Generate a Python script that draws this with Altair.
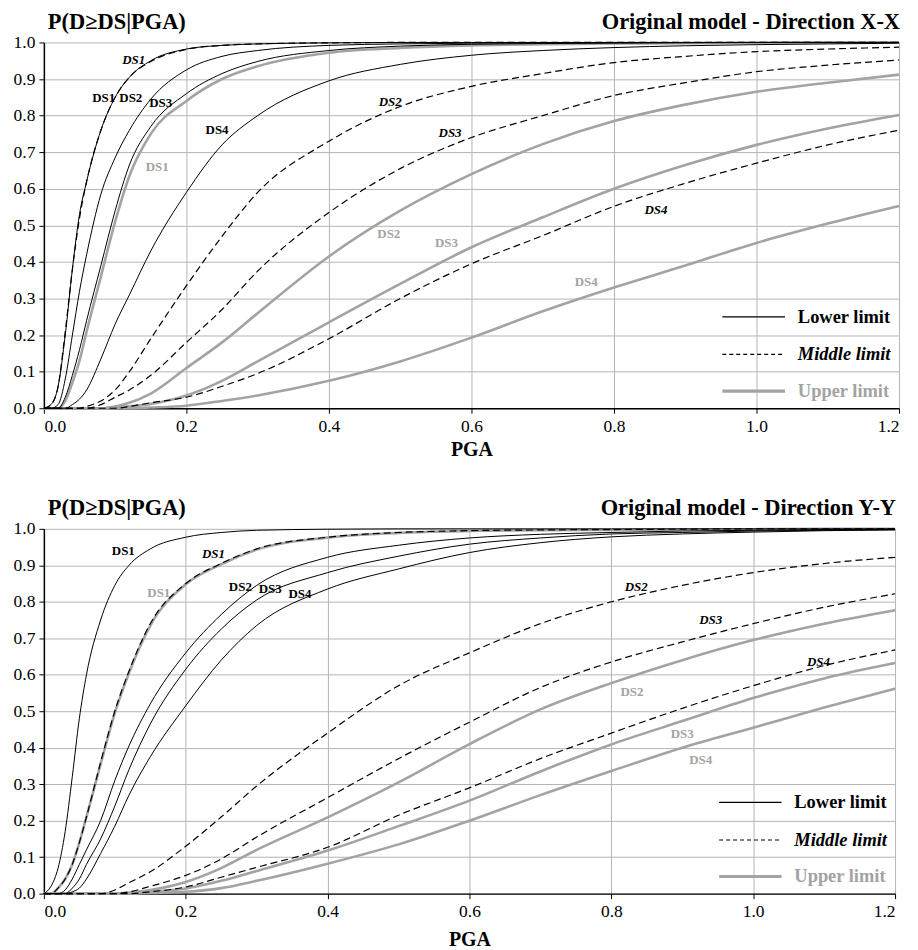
import altair as alt
import pandas as pd

# ---------------- data ----------------
PGA = [0, 0.01, 0.02, 0.03, 0.04, 0.05, 0.06, 0.08, 0.10, 0.12, 0.15, 0.20, 0.25,
       0.30, 0.40, 0.50, 0.60, 0.70, 0.80, 0.90, 1.00, 1.10, 1.20]

# Direction X-X
XX_LOWER = {
    "DS1": [0, 0.01, 0.06, 0.20, 0.38, 0.53, 0.62, 0.76, 0.85, 0.905, 0.95, 0.982, 0.992, 0.996, 0.999, 1, 1, 1, 1, 1, 1, 1, 1],
    "DS2": [0, 0, 0.01, 0.08, 0.20, 0.32, 0.42, 0.585, 0.685, 0.76, 0.845, 0.925, 0.962, 0.978, 0.992, 0.996, 0.998, 0.999, 1, 1, 1, 1, 1],
    "DS3": [0, 0, 0, 0.03, 0.09, 0.16, 0.24, 0.39, 0.54, 0.665, 0.77, 0.86, 0.915, 0.948, 0.978, 0.99, 0.995, 0.997, 0.998, 0.999, 1, 1, 1],
    "DS4": [0, 0, 0, 0, 0.01, 0.025, 0.05, 0.135, 0.23, 0.31, 0.43, 0.59, 0.72, 0.80, 0.895, 0.94, 0.965, 0.978, 0.986, 0.991, 0.994, 0.996, 0.998],
}
XX_MIDDLE = {
    "DS1": [0, 0.01, 0.06, 0.21, 0.38, 0.52, 0.62, 0.76, 0.85, 0.905, 0.948, 0.981, 0.992, 0.996, 0.999, 1, 1, 1, 1, 1, 1, 1, 1],
    "DS2": [0, 0, 0, 0, 0, 0, 0.005, 0.02, 0.05, 0.10, 0.19, 0.335, 0.47, 0.59, 0.73, 0.825, 0.88, 0.915, 0.945, 0.962, 0.975, 0.982, 0.987],
    "DS3": [0, 0, 0, 0, 0, 0, 0, 0.01, 0.03, 0.05, 0.09, 0.18, 0.27, 0.375, 0.535, 0.655, 0.74, 0.80, 0.855, 0.89, 0.92, 0.938, 0.952],
    "DS4": [0, 0, 0, 0, 0, 0, 0, 0, 0, 0.005, 0.015, 0.03, 0.06, 0.095, 0.19, 0.30, 0.395, 0.472, 0.552, 0.615, 0.67, 0.72, 0.76],
}
XX_UPPER = {
    "DS1": [0, 0, 0, 0.02, 0.07, 0.13, 0.21, 0.36, 0.51, 0.635, 0.75, 0.84, 0.90, 0.935, 0.972, 0.985, 0.992, 0.995, 0.997, 0.998, 0.999, 1, 1],
    "DS2": [0, 0, 0, 0, 0, 0, 0, 0, 0.005, 0.015, 0.04, 0.11, 0.18, 0.26, 0.415, 0.54, 0.64, 0.722, 0.785, 0.83, 0.865, 0.89, 0.912],
    "DS3": [0, 0, 0, 0, 0, 0, 0, 0, 0.002, 0.005, 0.012, 0.035, 0.075, 0.128, 0.235, 0.34, 0.44, 0.522, 0.60, 0.665, 0.72, 0.765, 0.802],
    "DS4": [0, 0, 0, 0, 0, 0, 0, 0, 0, 0, 0.002, 0.007, 0.02, 0.035, 0.075, 0.128, 0.193, 0.265, 0.33, 0.39, 0.452, 0.505, 0.553],
}

# Direction Y-Y
YY_LOWER = {
    "DS1": [0, 0.02, 0.07, 0.17, 0.32, 0.48, 0.60, 0.75, 0.845, 0.90, 0.945, 0.977, 0.99, 0.996, 0.999, 1, 1, 1, 1, 1, 1, 1, 1],
    "DS2": [0, 0, 0, 0.01, 0.04, 0.08, 0.12, 0.20, 0.31, 0.405, 0.52, 0.66, 0.765, 0.845, 0.922, 0.955, 0.975, 0.985, 0.99, 0.994, 0.996, 0.998, 0.999],
    "DS3": [0, 0, 0, 0, 0.015, 0.04, 0.08, 0.15, 0.24, 0.34, 0.465, 0.615, 0.725, 0.805, 0.88, 0.925, 0.958, 0.975, 0.986, 0.99, 0.994, 0.996, 0.998],
    "DS4": [0, 0, 0, 0, 0.005, 0.015, 0.04, 0.11, 0.185, 0.27, 0.375, 0.515, 0.64, 0.735, 0.835, 0.89, 0.935, 0.962, 0.978, 0.986, 0.991, 0.995, 0.997],
}
YY_MIDDLE = {
    "DS1": [0, 0, 0.015, 0.04, 0.08, 0.14, 0.21, 0.36, 0.50, 0.61, 0.74, 0.85, 0.905, 0.945, 0.977, 0.99, 0.995, 0.997, 0.998, 0.999, 1, 1, 1],
    "DS2": [0, 0, 0, 0, 0, 0, 0, 0, 0.01, 0.03, 0.06, 0.13, 0.21, 0.295, 0.44, 0.57, 0.66, 0.74, 0.80, 0.845, 0.88, 0.905, 0.922],
    "DS3": [0, 0, 0, 0, 0, 0, 0, 0, 0, 0.005, 0.02, 0.05, 0.095, 0.155, 0.263, 0.37, 0.47, 0.565, 0.635, 0.69, 0.74, 0.785, 0.822],
    "DS4": [0, 0, 0, 0, 0, 0, 0, 0, 0, 0, 0.005, 0.018, 0.045, 0.072, 0.127, 0.215, 0.29, 0.37, 0.44, 0.508, 0.57, 0.625, 0.668],
}
YY_UPPER = {
    "DS1": [0, 0, 0.015, 0.04, 0.08, 0.14, 0.21, 0.355, 0.495, 0.605, 0.735, 0.848, 0.903, 0.943, 0.976, 0.989, 0.994, 0.996, 0.997, 0.998, 0.999, 1, 1],
    "DS2": [0, 0, 0, 0, 0, 0, 0, 0, 0, 0.003, 0.01, 0.032, 0.07, 0.12, 0.209, 0.305, 0.41, 0.505, 0.577, 0.64, 0.695, 0.74, 0.777],
    "DS3": [0, 0, 0, 0, 0, 0, 0, 0, 0, 0, 0.005, 0.014, 0.035, 0.062, 0.118, 0.185, 0.255, 0.335, 0.409, 0.473, 0.536, 0.59, 0.632],
    "DS4": [0, 0, 0, 0, 0, 0, 0, 0, 0, 0, 0.002, 0.005, 0.015, 0.035, 0.082, 0.135, 0.20, 0.27, 0.336, 0.40, 0.455, 0.51, 0.562],
}

# curve labels: (text, pga, p)
XX_LABELS = {
    "Lower limit": [("DS1", 0.084, 0.848), ("DS2", 0.122, 0.848), ("DS3", 0.164, 0.834), ("DS4", 0.243, 0.761)],
    "Middle limit": [("DS1", 0.126, 0.952), ("DS2", 0.486, 0.837), ("DS3", 0.570, 0.753), ("DS4", 0.859, 0.543)],
    "Upper limit": [("DS1", 0.159, 0.660), ("DS2", 0.484, 0.475), ("DS3", 0.565, 0.453), ("DS4", 0.761, 0.344)],
}
YY_LABELS = {
    "Lower limit": [("DS1", 0.112, 0.939), ("DS2", 0.277, 0.841), ("DS3", 0.319, 0.835), ("DS4", 0.361, 0.822)],
    "Middle limit": [("DS1", 0.239, 0.931), ("DS2", 0.835, 0.841), ("DS3", 0.940, 0.751), ("DS4", 1.092, 0.636)],
    "Upper limit": [("DS1", 0.162, 0.824), ("DS2", 0.829, 0.554), ("DS3", 0.900, 0.437), ("DS4", 0.926, 0.366)],
}

LIMITS = ["Lower limit", "Middle limit", "Upper limit"]
XTICKS = [0, 0.2, 0.4, 0.6, 0.8, 1.0, 1.2]
YTICKS = [0, 0.1, 0.2, 0.3, 0.4, 0.5, 0.6, 0.7, 0.8, 0.9, 1.0]

# ---------------- styling ----------------
FONT = "Liberation Serif"
GRID = "#b5b5b5"
GRAY = "#a3a3a3"
LINE_STYLE = {
    "Lower limit": dict(color="black", strokeWidth=1.0),
    "Middle limit": dict(color="black", strokeWidth=1.2, strokeDash=[7, 4]),
    "Upper limit": dict(color=GRAY, strokeWidth=2.6),
}
LEGEND_STYLE = {
    "Lower limit": dict(color="black", strokeWidth=1.2),
    "Middle limit": dict(color="black", strokeWidth=1.2, strokeDash=[4, 3]),
    "Upper limit": dict(color=GRAY, strokeWidth=3.2),
}
TEXT_STYLE = {
    "Lower limit": dict(color="black", fontStyle="normal"),
    "Middle limit": dict(color="black", fontStyle="italic"),
    "Upper limit": dict(color=GRAY, fontStyle="normal"),
}
# legend position (data units)
LEG_X1, LEG_X2, LEG_TX = 0.952, 1.040, 1.058
LEG_Y = {"Lower limit": 0.250, "Middle limit": 0.147, "Upper limit": 0.047}


def long_table(sets):
    rows = []
    for lim, d in zip(LIMITS, sets):
        for ds, vals in d.items():
            for x, v in zip(PGA, vals):
                rows.append({"pga": x, "p": v, "ds": ds, "limit": lim})
    return pd.DataFrame(rows)


def panel(sets, labels, heading, w, h, title_pad):
    cur = long_table(sets)
    xenc = alt.X("pga:Q", scale=alt.Scale(domain=[0, 1.2], nice=False, zero=False),
                 axis=alt.Axis(values=XTICKS, format=".1f", title="PGA",
                               titlePadding=title_pad))
    yenc = alt.Y("p:Q", scale=alt.Scale(domain=[0, 1], nice=False),
                 axis=alt.Axis(values=YTICKS, format=".1f", title=None))
    layers = []
    for lim in ["Upper limit", "Lower limit", "Middle limit"]:
        layers.append(
            alt.Chart(cur[cur.limit == lim])
            .mark_line(interpolate="monotone", **LINE_STYLE[lim])
            .encode(x=xenc, y=yenc, detail="ds:N")
        )
    for lim in LIMITS:
        lab = pd.DataFrame(labels[lim], columns=["t", "pga", "p"])
        layers.append(
            alt.Chart(lab)
            .mark_text(font=FONT, fontSize=13, fontWeight="bold", align="center",
                       baseline="middle", **TEXT_STYLE[lim])
            .encode(x=xenc, y=yenc, text="t:N")
        )
    for lim in LIMITS:
        leg = pd.DataFrame({"pga": [LEG_X1], "pga2": [LEG_X2], "p": [LEG_Y[lim]],
                            "tx": [LEG_TX], "t": [lim]})
        layers.append(
            alt.Chart(leg).mark_rule(**LEGEND_STYLE[lim])
            .encode(x=xenc, x2="pga2:Q", y=yenc)
        )
        layers.append(
            alt.Chart(leg)
            .mark_text(font=FONT, fontSize=18.5, fontWeight="bold", align="left",
                       baseline="middle", **TEXT_STYLE[lim])
            .encode(x=alt.X("tx:Q", scale=alt.Scale(domain=[0, 1.2], nice=False)),
                    y=yenc, text="t:N")
        )
    head = pd.DataFrame({"t": ["P(D\u2265DS|PGA)"], "h": [heading]})
    layers.append(
        alt.Chart(head).mark_text(font=FONT, fontSize=22.5, fontWeight="bold",
                                  align="left", baseline="alphabetic", color="black")
        .encode(x=alt.value(4), y=alt.value(-14), text="t:N")
    )
    layers.append(
        alt.Chart(head).mark_text(font=FONT, fontSize=22.5, fontWeight="bold",
                                  align="right", baseline="alphabetic", color="black")
        .encode(x=alt.value(w + 1), y=alt.value(-14), text="h:N")
    )
    return alt.layer(*layers).properties(width=w, height=h)


top = panel([XX_LOWER, XX_MIDDLE, XX_UPPER], XX_LABELS,
            "Original model - Direction X-X", 858, 367, 5)
bottom = panel([YY_LOWER, YY_MIDDLE, YY_UPPER], YY_LABELS,
               "Original model - Direction Y-Y", 854, 366, 10)

chart = (
    alt.vconcat(top, bottom, spacing=37)
    .properties(padding={"left": 5, "top": 1, "right": 5, "bottom": 0},
                background="white")
    .configure_view(stroke=None)
    .configure_axis(
        labelFont=FONT, labelFontSize=17.5, labelColor="black", labelPadding=4,
        titleFont=FONT, titleFontSize=20, titleFontWeight="bold", titleColor="black",
        domainColor="black", domainWidth=1.5, tickColor="black", tickSize=5,
        gridColor=GRID, gridWidth=1, grid=True,
    )
)

chart.save("out.html", embed_options={"renderer": "svg", "actions": False})
